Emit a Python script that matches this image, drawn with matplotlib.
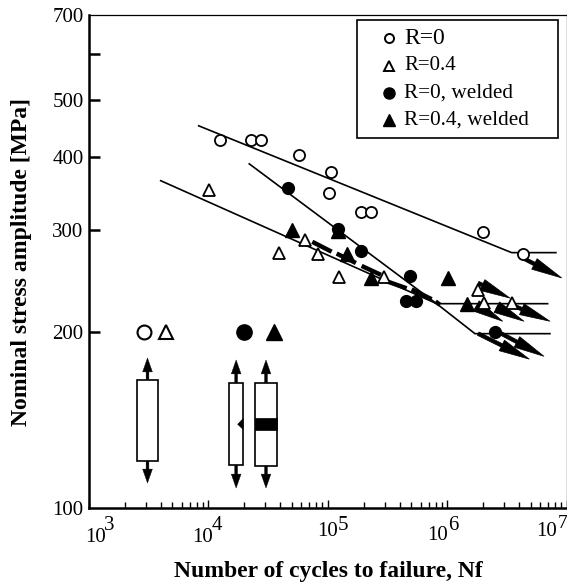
import matplotlib
matplotlib.use('Agg')
import matplotlib.pyplot as plt
from matplotlib.patches import Rectangle, Polygon
from matplotlib.transforms import Affine2D
from matplotlib.ticker import NullFormatter, FixedLocator

# data
r0_nf = [12430, 22870, 27570, 57400, 105700, 102400, 188600, 228700, 2.0e6, 4.29e6]
r0_s = [428, 427, 427, 403, 377, 347, 322, 322, 297, 272]
r04_nf = [10170, 39250, 64400, 83200, 124800, 297300, 1.82e6, 2.03e6, 3.49e6]
r04_s = [351, 274, 288, 273, 249, 249, 236, 225, 225]
r0w_nf = [46150, 122500, 188600, 487900, 451900, 548000, 2.5e6]
r0w_s = [353, 301, 276, 250, 226, 226, 200]
r04w_nf = [50100, 122500, 143900, 230100, 1.02e6, 1.456e6]
r04w_s = [300, 299, 273, 248, 248, 224]

# S-N lines
line_r0_nf = [8297, 3.47e6, 8.15e6]
line_r0_s = [452, 274, 274]
line_r04_nf = [3985, 817000, 6.95e6]
line_r04_s = [364, 224, 224]
line_r0w_nf = [22000, 817000, 1.71e6, 7.26e6]
line_r0w_s = [389, 224, 199, 199]

# thick dashed line of R=0.4 welded
dash_nf = [(74200, 107800), (118700, 172200), (192300, 279000), (289900, 458000),
           (504500, 741500), (800000, 870000)]
dash_s = [(286, 275), (273, 263), (260, 251), (246, 238), (237, 228), (226, 223)]

# run-out arrows (tail, tip)
runout_nf = [(4.34e6, 9.1e6), (1.82e6, 3.36e6), (1.82e6, 2.92e6), (2.6e6, 4.4e6),
             (3.47e6, 7.26e6), (2.6e6, 6.47e6), (1.82e6, 4.87e6)]
runout_s = [(268, 248), (243, 229), (221, 209), (221, 209), (223, 209), (201, 182), (199, 180)]

# big symbols above the specimen sketches
key_nf = [2915, 4457, 19860, 35400]
key_s = [200, 200, 200, 200]

y_ticks = [100, 200, 300, 400, 500, 600, 700]
y_labels = ['100', '200', '300', '400', '500', '', '700']
x_major = [1e3, 1e4, 1e5, 1e6, 1e7]
x_minor = [m * d for d in x_major[:-1] for m in range(2, 10)]
legend_labels = ['R=0', 'R=0.4', 'R=0, welded', 'R=0.4, welded']

plt.rcParams['font.family'] = ['Liberation Serif', 'DejaVu Serif']

fig = plt.figure(figsize=(5.67, 5.85), dpi=100)
ax = fig.add_axes([89 / 567, 77 / 585, 477.5 / 567, 493 / 585])
ax.set_xscale('log')
ax.set_yscale('log')
ax.set_xlim(1e3, 1e7)
ax.set_ylim(100, 700)

# picture pixels, origin top left
px = Affine2D().scale(1 / 567, -1 / 585).translate(0, 1) + fig.transFigure

for side in ['left', 'bottom']:
    ax.spines[side].set_linewidth(1.8)
for side in ['top', 'right']:
    ax.spines[side].set_linewidth(0.9)

ax.yaxis.set_major_locator(FixedLocator(y_ticks))
ax.yaxis.set_minor_locator(FixedLocator([]))
ax.yaxis.set_minor_formatter(NullFormatter())
ax.set_yticklabels(y_labels)
ax.xaxis.set_major_locator(FixedLocator(x_major))
ax.xaxis.set_minor_locator(FixedLocator(x_minor))
ax.xaxis.set_minor_formatter(NullFormatter())
ax.tick_params(axis='y', which='major', direction='in', length=8, width=1.8, labelsize=15, pad=4)
ax.tick_params(axis='x', which='major', direction='in', length=6, width=1, labelbottom=False)
ax.tick_params(axis='x', which='minor', direction='in', length=4, width=1, labelbottom=False)
# 100 and 700 sit on the frame, no tick mark there
for t in [ax.yaxis.get_major_ticks()[0], ax.yaxis.get_major_ticks()[-1]]:
    t.tick1line.set_visible(False)

# ==================== LINES ====================
for nf, s in [(line_r0_nf, line_r0_s), (line_r04_nf, line_r04_s), (line_r0w_nf, line_r0w_s)]:
    ax.plot(nf, s, color='black', lw=1.2, zorder=2)
for nf, s in zip(dash_nf, dash_s):
    ax.plot(nf, s, color='black', lw=3.2, solid_capstyle='butt', zorder=3)

# ==================== RUN-OUT ARROWS ====================
for nf, s in zip(runout_nf, runout_s):
    ax.annotate('', xy=(nf[1], s[1]), xytext=(nf[0], s[0]),
                arrowprops=dict(width=2.6, headwidth=8.5, headlength=22, shrink=0,
                                facecolor='black', edgecolor='black', lw=0.5), zorder=3)

# ==================== POINTS ====================
ax.plot(r0_nf, r0_s, 'o', mfc='white', mec='black', mew=1.3, ms=8, zorder=4)
ax.plot(r04_nf, r04_s, '^', mfc='white', mec='black', mew=1.3, ms=8, zorder=4)
ax.plot(r0w_nf, r0w_s, 'o', color='black', ms=8.5, zorder=4)
ax.plot(r04w_nf, r04w_s, '^', color='black', ms=9.5, zorder=4)

ax.plot(key_nf[0], key_s[0], 'o', mfc='white', mec='black', mew=1.5, ms=10)
ax.plot(key_nf[1], key_s[1], '^', mfc='white', mec='black', mew=1.5, ms=10.5)
ax.plot(key_nf[2], key_s[2], 'o', color='black', ms=11)
ax.plot(key_nf[3], key_s[3], '^', color='black', ms=12)

# ==================== SPECIMEN SKETCHES ====================
def specimen(x0, x1, y0, y1, up_tip, down_tip):
    ax.add_patch(Rectangle((x0, y0), x1 - x0, y1 - y0, transform=px, fc='white', ec='black', lw=1.2, zorder=2))
    xc = (x0 + x1) / 2
    for start, tip in [(y0, up_tip), (y1, down_tip)]:
        ax.annotate('', xy=(xc, tip), xytext=(xc, start), xycoords=px, textcoords=px,
                    arrowprops=dict(width=2, headwidth=7, headlength=10, shrink=0,
                                    facecolor='black', edgecolor='black', lw=0.3))

specimen(136.7, 158.3, 379.5, 461, 358, 483)
specimen(229, 243.3, 382.7, 465.3, 360, 488)
specimen(254.7, 277.3, 382.7, 466, 360, 488)
ax.add_patch(Polygon([(237.3, 424.3), (243.3, 418), (243.3, 430)], transform=px, fc='black', ec='none', zorder=3))
ax.add_patch(Rectangle((254.7, 418.3), 22.6, 11.7, transform=px, fc='black', ec='black', lw=0.5, zorder=3))

# ==================== LEGEND ====================
ax.add_patch(Rectangle((357.3, 20), 201, 118, transform=px, fc='white', ec='black', lw=1.2, zorder=5))
legend_y = [38, 66, 93, 120]
legend_size = [17, 15, 15.3, 15.3]
ax.plot(389, legend_y[0], 'o', transform=px, mfc='white', mec='black', mew=1.4, ms=6.5, zorder=6, clip_on=False)
ax.plot(389, legend_y[1], '^', transform=px, mfc='white', mec='black', mew=1.4, ms=7, zorder=6, clip_on=False)
ax.plot(389, legend_y[2], 'o', transform=px, color='black', ms=8, zorder=6, clip_on=False)
ax.plot(389, legend_y[3], '^', transform=px, color='black', ms=8.5, zorder=6, clip_on=False)
for label, y, size in zip(legend_labels, legend_y, legend_size):
    ax.text(404, y, label, transform=px, ha='left', va='center', fontsize=size, zorder=6)

# ==================== X TICK LABELS ====================
base_x = [85, 192, 317, 427, 536]
base_y = [537, 537, 532, 535, 532]
exp_x = [103.5, 212, 338, 448, 557.5]
exp_y = [525, 525, 525, 525, 523]
exp_size = [15, 15, 15, 15, 14]
for x, y, ex, ey, e, size in zip(base_x, base_y, exp_x, exp_y, ['3', '4', '5', '6', '7'], exp_size):
    ax.text(x, y, '10', transform=px, ha='left', va='center', fontsize=15, clip_on=False)
    ax.text(ex, ey, e, transform=px, ha='left', va='center', fontsize=size, clip_on=False)

fig.text(328 / 567, 1 - 571.5 / 585, 'Number of cycles to failure, Nf', ha='center', va='center',
         fontsize=17, fontweight='bold')
fig.text(22 / 567, 1 - 262 / 585, 'Nominal stress amplitude [MPa]', ha='center', va='center',
         rotation=90, fontsize=17, fontweight='bold')

plt.savefig('out.png', dpi=100, facecolor='white')
